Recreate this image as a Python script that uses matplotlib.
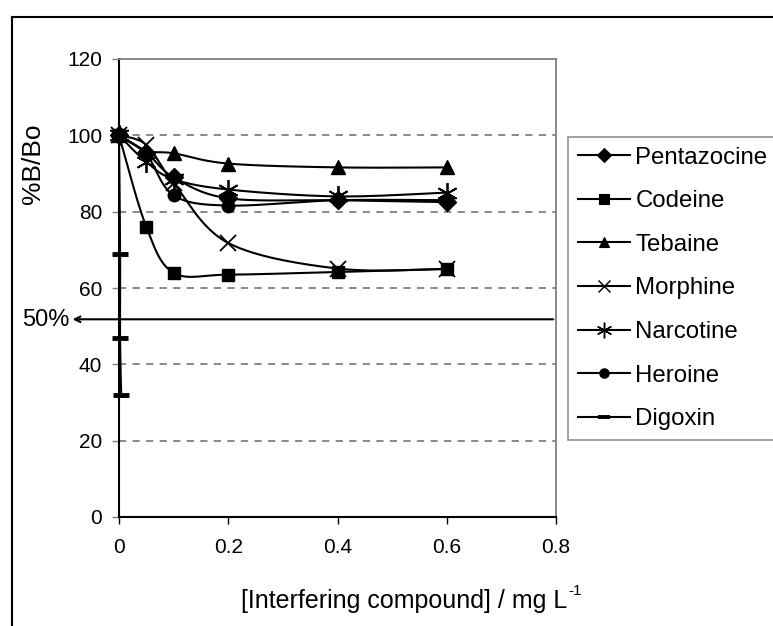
import numpy as np
import matplotlib
matplotlib.use('Agg')
import matplotlib.pyplot as plt
from matplotlib.lines import Line2D

plt.rcParams['font.family'] = ['Liberation Sans', 'DejaVu Sans']

# data
conc = [0, 0.05, 0.1, 0.2, 0.4, 0.6]
pentazocine = [100, 95.5, 89, 83.5, 83, 82.5]
codeine = [100, 76, 64, 63.5, 64.2, 65]
tebaine = [100, 96, 95.3, 92.6, 91.6, 91.6]
morphine = [100, 97.5, 87.5, 71.8, 65.1, 65]
narcotine = [100, 93, 88.5, 85.8, 84, 85]
heroine = [100, 95, 84.3, 81.6, 83, 83]
digoxin_conc = [0, 0.002, 0.002, 0.004]
digoxin = [100, 69, 47, 32]
half_level = 51.8

series = [
    ('Pentazocine', conc, pentazocine, 'D', 9, 1.0),
    ('Codeine', conc, codeine, 's', 9, 1.0),
    ('Tebaine', conc, tebaine, '^', 10, 1.0),
    ('Morphine', conc, morphine, 'x', 11, 1.3),
    ('Narcotine', conc, narcotine, (6, 2, 0), 15, 1.3),
    ('Heroine', conc, heroine, 'o', 9, 1.0),
    ('Digoxin', digoxin_conc, digoxin, '_', 12, 3.5),
]


def smooth(ax, xs, ys, n=30):
    # excel-like smoothed line (catmull-rom bezier) in screen space
    pts = ax.transData.transform(np.column_stack([xs, ys]))
    out = [pts[0]]
    m = len(pts)
    for i in range(m - 1):
        p0 = pts[max(i - 1, 0)]
        p1 = pts[i]
        p2 = pts[i + 1]
        p3 = pts[min(i + 2, m - 1)]
        c1 = p1 + (p2 - p0) / 6.0
        c2 = p2 - (p3 - p1) / 6.0
        t = np.linspace(0, 1, n)[1:, None]
        seg = ((1 - t) ** 3) * p1 + 3 * ((1 - t) ** 2) * t * c1 + 3 * (1 - t) * t ** 2 * c2 + t ** 3 * p2
        out.extend(seg)
    out = np.array(out)
    back = ax.transData.inverted().transform(out)
    return back[:, 0], back[:, 1]


fig = plt.figure(figsize=(7.73, 6.26), dpi=100)
W, H = 773, 626
ax = fig.add_axes([119 / W, 1 - 517 / H, (556 - 119) / W, (517 - 59) / H])
ax.set_xlim(0, 0.8)
ax.set_ylim(0, 120)

handles = []
for name, xs, ys, mk, ms, mew in series:
    sx, sy = smooth(ax, xs, ys)
    ax.plot(sx, sy, color='black', lw=1.5, zorder=3)
    ax.plot(xs, ys, ls='none', marker=mk, ms=ms, mew=mew, color='black',
            mfc='black', mec='black', zorder=4, clip_on=False)
    handles.append(Line2D([], [], color='black', lw=1.5, marker=mk,
                          ms=ms * 0.75, mew=mew * 0.8, mfc='black', mec='black'))

for yv in [20, 40, 60, 80, 100]:
    ax.axhline(yv, color='#808080', lw=1.3, dashes=(4, 3.5), zorder=1)

ax.set_xticks([0, 0.2, 0.4, 0.6, 0.8])
ax.set_xticklabels(['0', '0.2', '0.4', '0.6', '0.8'])
ax.set_yticks([0, 20, 40, 60, 80, 100, 120])
ax.tick_params(axis='y', direction='out', length=5, width=1, color='#808080',
               labelsize=15, pad=7)
ax.tick_params(axis='x', direction='out', length=5, width=1, color='black',
               labelsize=15, pad=10)
for s in ['top', 'right']:
    ax.spines[s].set_color('#808080')
    ax.spines[s].set_linewidth(1.3)
for s in ['left', 'bottom']:
    ax.spines[s].set_color('black')
    ax.spines[s].set_linewidth(1.5)

# 50% line
ax.annotate('', xy=(-0.085, half_level), xytext=(0.795, half_level),
            arrowprops=dict(arrowstyle='->', color='black', lw=1.5,
                            shrinkA=0, shrinkB=0),
            annotation_clip=False)
fig.text(46 / W, 1 - 320 / H, '50%', fontsize=17, ha='center', va='center')

fig.text(33 / W, 1 - 164 / H, '%B/Bo', fontsize=19, rotation=90,
         ha='center', va='center')
fig.text(567 / W, 1 - 601 / H, '[Interfering compound] / mg L',
         fontsize=18, ha='right', va='center')
fig.text(568 / W, 1 - 591 / H, '-1', fontsize=11, ha='left', va='center')

leg = fig.legend(handles, [s[0] for s in series], loc='upper left',
                 bbox_to_anchor=(568 / W, 1 - 137 / H), fontsize=17.3,
                 frameon=True, fancybox=False, edgecolor='#808080',
                 handlelength=2.2, handletextpad=0.2, labelspacing=0.9,
                 borderpad=0.4, borderaxespad=0)
leg.get_frame().set_linewidth(1.3)

# outer chart border
fig.add_artist(Line2D([12 / W, 12 / W], [0, 1 - 17 / H], color='black', lw=1.5,
                      transform=fig.transFigure))
fig.add_artist(Line2D([12 / W, 1], [1 - 17 / H, 1 - 17 / H], color='black', lw=1.5,
                      transform=fig.transFigure))

fig.savefig('out.png', dpi=100)
